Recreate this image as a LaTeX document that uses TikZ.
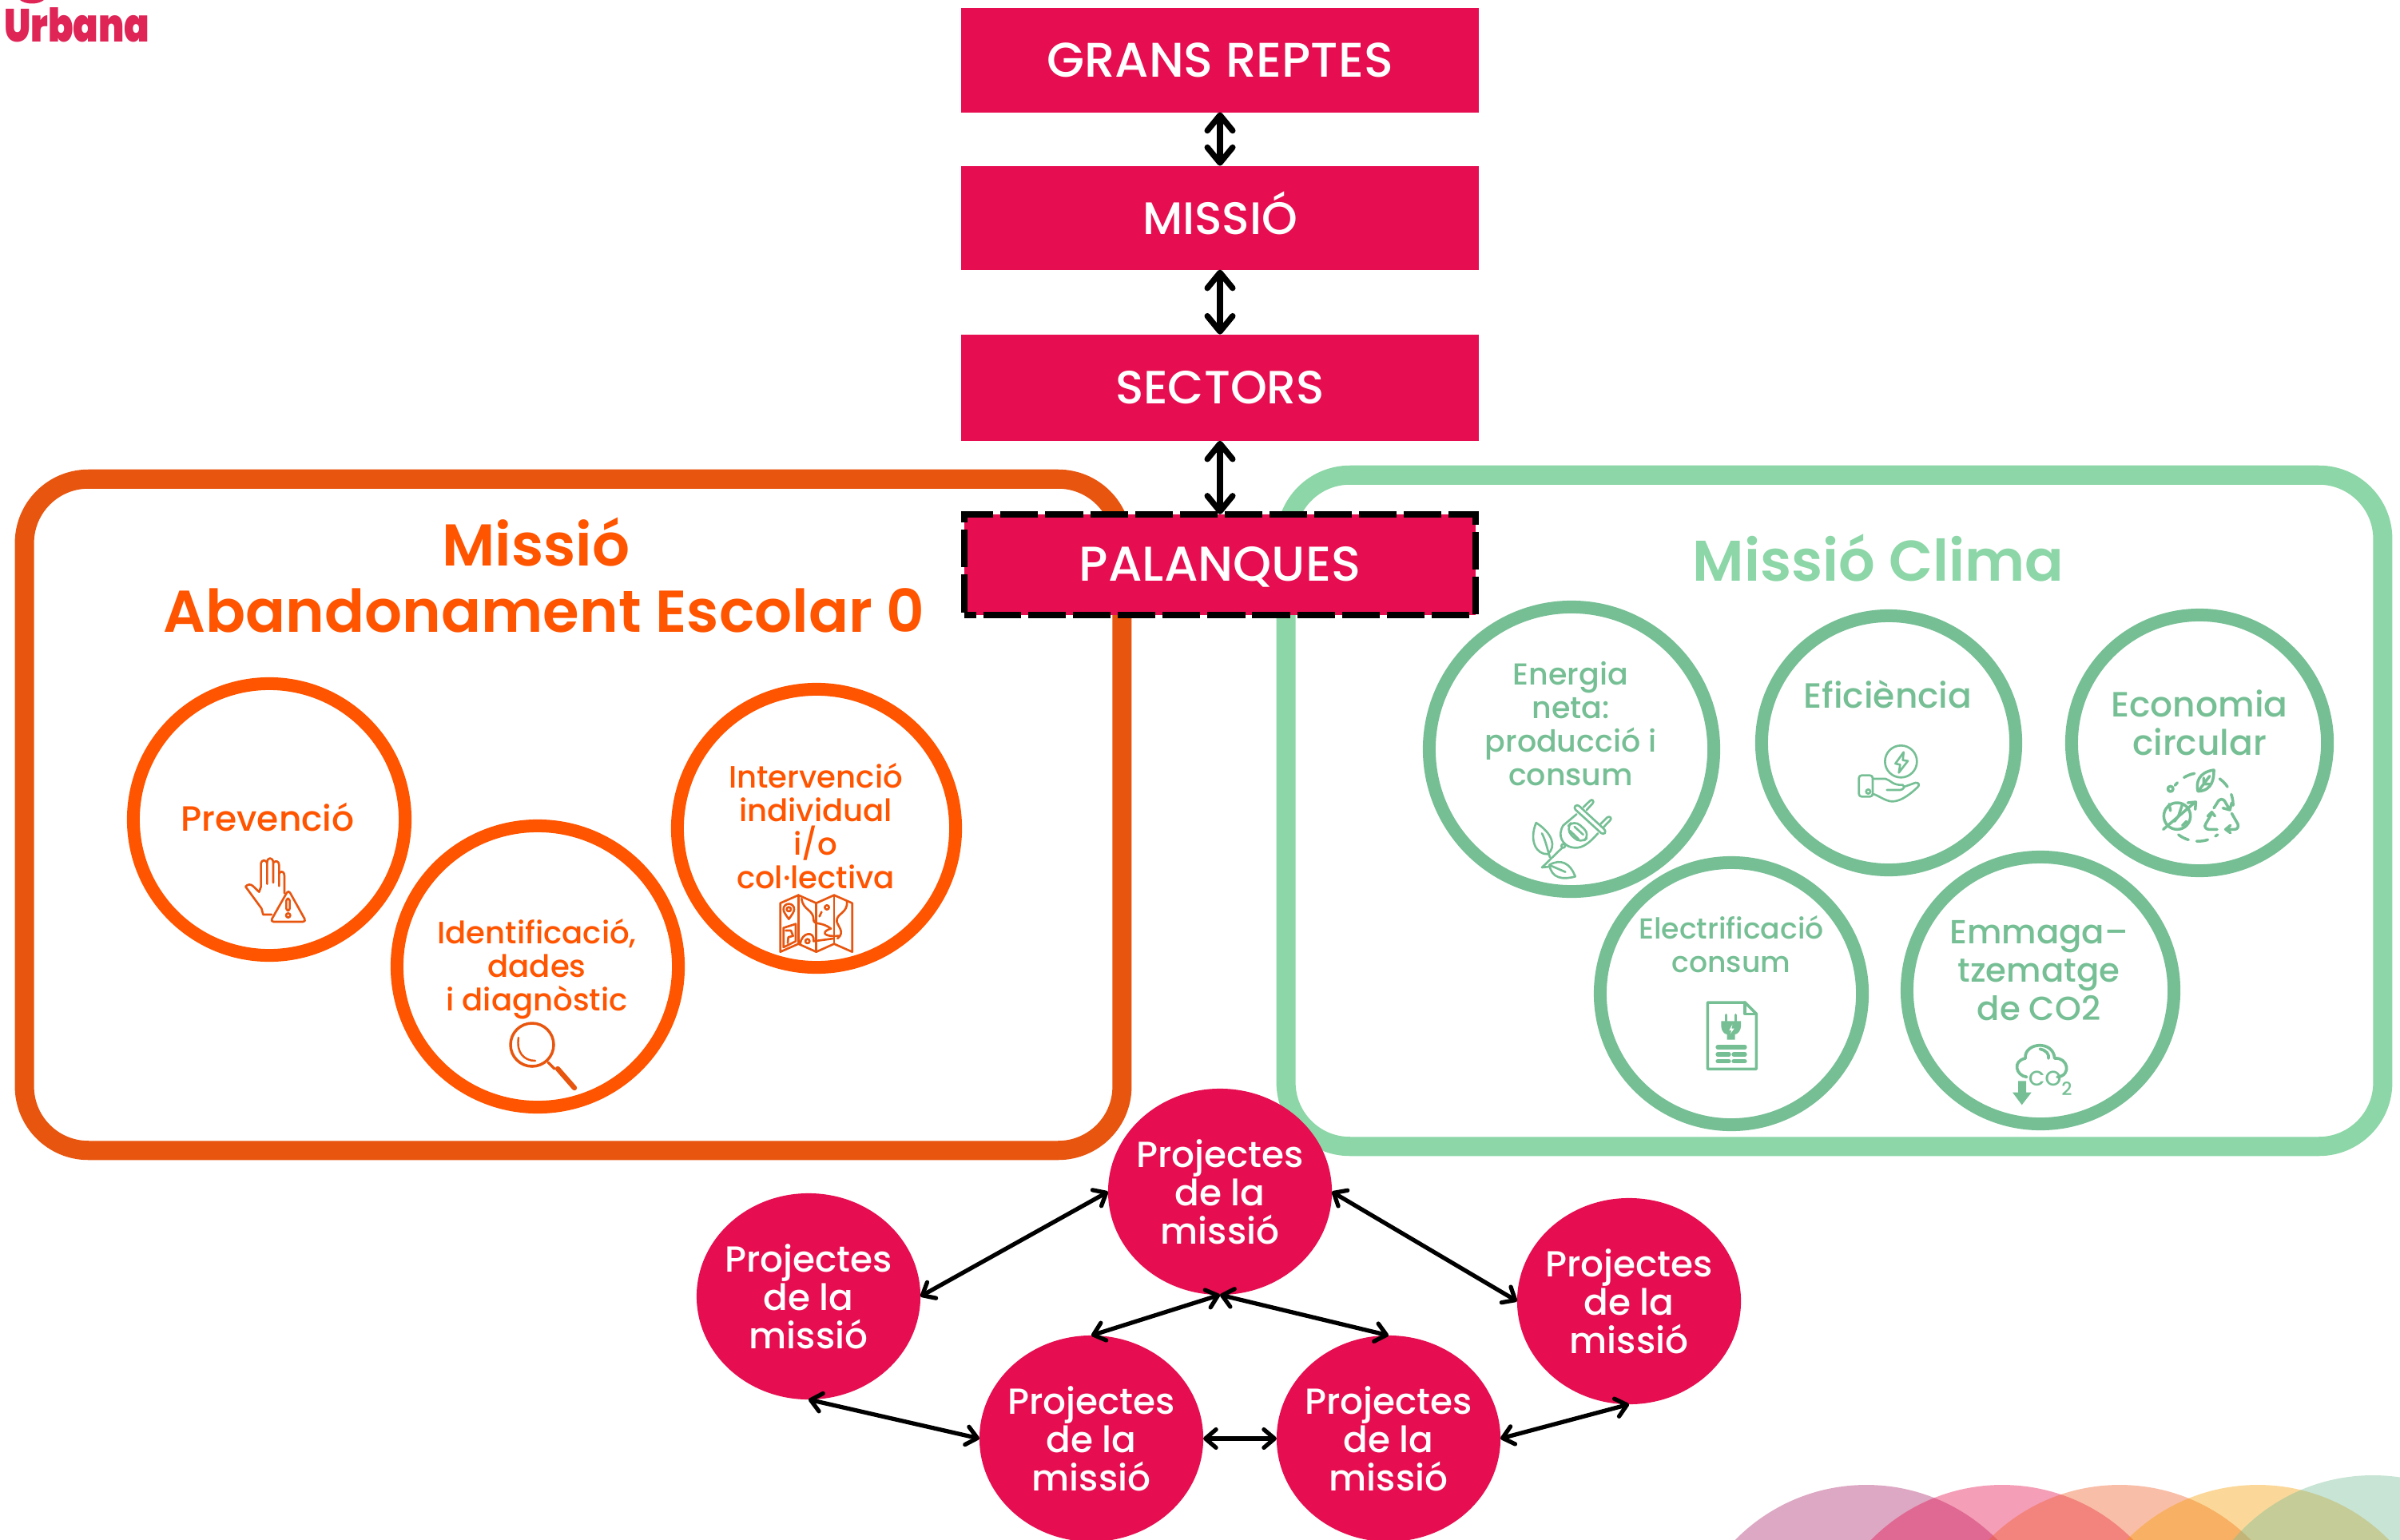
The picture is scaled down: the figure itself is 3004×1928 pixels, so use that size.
\documentclass[tikz,border=0pt]{standalone}
\usepackage{fontspec}
\setmainfont{Poppins}
\newfontfamily\MediumFont{Poppins Medium}
\newfontfamily\TitleFont{Poppins SemiBold}
\newfontfamily\LogoFont{Poppins Black}
\usepackage{xcolor}
\usepackage{tikz}
\usetikzlibrary{arrows.meta}
\usetikzlibrary{positioning}
\usetikzlibrary{shapes.geometric}
\definecolor{Crimson}{HTML}{E60D50}
\definecolor{LogoRed}{HTML}{DF2456}
\definecolor{FrameOrange}{HTML}{E8550F}
\definecolor{Orange}{HTML}{FF5400}
\definecolor{FrameGreen}{HTML}{8CD6A7}
\definecolor{Green}{HTML}{76BF95}
\definecolor{ArchA}{HTML}{AA2569}
\definecolor{ArchB}{HTML}{E30C4B}
\definecolor{ArchC}{HTML}{F05C25}
\definecolor{ArchD}{HTML}{F59D00}
\definecolor{ArchE}{HTML}{75BB96}

\begin{document}
\begin{tikzpicture}
[
	x = 0.01cm, y = -0.01cm,
	Level/.style		= {fill = Crimson, outer sep = 0cm, minimum width = 6.48cm, minimum height = 1.3cm, text = white, text height = 0.41cm, text depth = 0cm, font = \MediumFont\fontsize{#1}{16.8}\selectfont},
	Frame/.style		= {draw = #1, line width = 0.24cm, rounded corners = 0.8cm, outer sep = 0cm},
	Phase/.style		= {shape = circle, draw = #1, line width = 0.16cm, inner sep = 0cm},
	PhaseText/.style	= {text = #1, align = center, inner sep = 0cm, font = \MediumFont\fontsize{11}{12}\selectfont},
	BigText/.style		= {text = #1, align = center, inner sep = 0cm, font = \MediumFont\fontsize{12.5}{13.7}\selectfont},
	Title/.style		= {text = #1, anchor = base, inner sep = 0cm, font = \TitleFont\fontsize{21}{21}\selectfont},
	Project/.style		= {shape = ellipse, fill = Crimson, outer sep = 0cm, inner sep = -1cm, minimum width = 2.8cm, minimum height = 2.58cm, text = white, align = center, font = \MediumFont\fontsize{12.9}{13.7}\selectfont},
	BoxLink/.style		= {{Straight Barb[round, length = 5.5pt, width = 9pt]}-{Straight Barb[round, length = 5.5pt, width = 9pt]}, line width = 2.1pt},
	Link/.style			= {{Straight Barb[round, length = 3.8pt, width = 6.5pt]}-{Straight Barb[round, length = 3.8pt, width = 6.5pt]}, line width = 1.5pt},
	Icon/.style			= {draw = #1, line width = 0.75pt, line join = round, line cap = round},
	Arch/.style			= {fill = #1, fill opacity = 0.4},
]

	\useasboundingbox (0,0) rectangle (3004,1928);
	\clip (0,0) rectangle (3004,1928);

	% logo
	\node (logo) [anchor = base east, inner sep = 0cm, text = LogoRed, font = \LogoFont\fontsize{16.5}{16.5}\selectfont] at (188,53) {\scalebox{0.8}[1]{Urbana}};
	\fill [LogoRed] (25,0) .. controls (32,6) and (48,6) .. (55,0) -- cycle;

	% arches at the bottom
	\fill [Arch = ArchA] (2336,2089) circle [radius = 230];
	\fill [Arch = ArchB] (2506,2089) circle [radius = 230];
	\fill [Arch = ArchC] (2653,2089) circle [radius = 230];
	\fill [Arch = ArchD] (2826,2089) circle [radius = 230];
	\fill [Arch = ArchE] (2970,2077) circle [radius = 230];

	% the two missions
	\node (dropout) [Frame = FrameOrange, minimum width = 13.73cm, minimum height = 8.4cm] at (717.5,1020) {};
	\node (climate) [Frame = FrameGreen, minimum width = 13.72cm, minimum height = 8.4cm] at (2296,1015) {};

	\node (dropoutT) [Title = Orange] at (671,708) {Missió};
	\node (dropoutU) [Title = Orange] at (681,791) {Abandonament Escolar 0};
	\node (climateT) [Title = FrameGreen, font = \TitleFont\fontsize{20.4}{20.4}\selectfont] at (2351,727) {Missió Clima};

	\node (prevent) [Phase = Orange, minimum size = 3.4cm] at (337,1026) {};
	\node (identify) [Phase = Orange, minimum size = 3.52cm] at (673,1210) {};
	\node (act) [Phase = Orange, minimum size = 3.48cm] at (1022,1037) {};
	%
	\node (preventT) [BigText = Orange] at (335,1023) {Prevenció};
	\node (identifyT) [PhaseText = Orange] at (672,1213) {Identificació, \\ dades \\ i diagnòstic};
	\node (actT) [PhaseText = Orange] at (1021,1034) {Intervenció \\ individual \\ i/o \\ col·lectiva};

	\node (energy) [Phase = Green, minimum size = 3.56cm] at (1967,938) {};
	\node (saving) [Phase = Green, minimum size = 3.18cm] at (2364,930) {};
	\node (circular) [Phase = Green, minimum size = 3.2cm] at (2753,930) {};
	\node (electric) [Phase = Green, minimum size = 3.28cm] at (2167,1244) {};
	\node (storage) [Phase = Green, minimum size = 3.34cm] at (2554,1240) {};
	%
	\node (energyT) [PhaseText = Green, font = \MediumFont\fontsize{10.8}{12}\selectfont] at (1966,906) {Energia \\ neta: \\ producció i \\ consum};
	\node (savingT) [BigText = Green] at (2363,869) {Eficiència};
	\node (circularT) [BigText = Green] at (2753,905) {Economia \\ circular};
	\node (electricT) [PhaseText = Green, font = \MediumFont\fontsize{10.3}{12}\selectfont] at (2167,1182) {Electrificació \\ consum};
	\node (storageT) [BigText = Green, font = \MediumFont\fontsize{11.9}{13.7}\selectfont] at (2552,1215) {Emmaga– \\ tzematge \\ de CO2};

	% levels
	\node (challenges) [Level = 17.3] at (1527,75.5) {GRANS REPTES};
	\node (mission) [Level = 16.2, below = 0.67cm of challenges] {MISSIÓ};
	\node (sectors) [Level = 16.6, below = 0.81cm of mission, minimum height = 1.33cm] {SECTORS};
	\node (levers) [Level = 17.4, below = 0.92cm of sectors, minimum width = 6.4cm, minimum height = 1.26cm, draw = black, line width = 0.08cm, dash pattern = on 13.4pt off 2.55pt, dash phase = 9.1pt] {PALANQUES};
	%
	\draw [BoxLink] (challenges) -- (mission);
	\draw [BoxLink] (mission) -- (sectors);
	\draw [BoxLink] (sectors) -- (levers);

	% projects
	\node (projTop) [Project] at (1527,1492) {Projectes \\ de la \\ missió};
	\node (projLeft) [Project] at (1012,1623) {Projectes \\ de la \\ missió};
	\node (projRight) [Project] at (2039,1629) {Projectes \\ de la \\ missió};
	\node (projLow) [Project] at (1366,1801) {Projectes \\ de la \\ missió};
	\node (projHigh) [Project] at (1738,1801) {Projectes \\ de la \\ missió};
	%
	\draw [Link] (projTop.west) -- (projLeft.east);
	\draw [Link] (projTop.east) -- (projRight.west);
	\draw [Link] (projTop.south) -- (projLow.north);
	\draw [Link] (projTop.south) -- (projHigh.north);
	\draw [Link] (projLeft.south) -- (projLow.west);
	\draw [Link] (projLow.east) -- (projHigh.west);
	\draw [Link] (projHigh.east) -- (projRight.south);

	% icons, orange
	\begin{scope}[shift = {(290,1060)}, scale = 1/3, Icon = FrameOrange]
		\draw (150,255) -- (118,255) -- (112,232) -- (52,150) .. controls (60,140) and (72,140) .. (80,148) -- (103,170) -- (110,150) -- (110,62) .. controls (112,48) and (130,48) .. (133,62) -- (133,140);
		\draw (133,60) .. controls (133,38) and (155,38) .. (156,60) -- (156,135);
		\draw (156,60) .. controls (166,50) and (178,55) .. (178,70) -- (178,148);
		\draw (178,100) .. controls (188,88) and (198,95) .. (198,110) -- (198,175);
		\draw [rounded corners = 1.2pt] (213,162) -- (280,282) -- (145,282) -- cycle;
		\draw [rounded corners = 0.8pt] (205,195) rectangle (218,240);
		\draw (212,258) circle [radius = 8];
	\end{scope}
	%
	\begin{scope}[Icon = FrameOrange]
		\draw [line width = 1pt] (666,1308) circle [radius = 27];
		\draw [line width = 0.7pt] (649,1299) .. controls (646,1318) and (656,1328) .. (670,1328);
		\draw [line width = 1pt] (686,1330) -- (694,1338);
		\draw [line width = 1.8pt] (698,1338) -- (719,1362);
	\end{scope}
	%
	\begin{scope}[shift = {(960,1110)}, scale = 1/3, Icon = FrameOrange]
		\draw (50,62) -- (118,32) -- (185,62) -- (252,32) -- (320,62) -- (320,245) -- (252,215) -- (185,245) -- (118,215) -- (50,245) -- cycle;
		\draw (118,32) -- (118,215) (185,62) -- (185,245) (252,32) -- (252,215);
		\draw (82,122) .. controls (70,105) and (62,95) .. (62,85) .. controls (62,58) and (102,58) .. (102,85) .. controls (102,95) and (94,105) .. (82,122) -- cycle;
		\draw (82,85) circle [radius = 8];
		\draw (62,155) -- (108,140) -- (108,205) -- (62,228) -- cycle;
		\draw (70,165) -- (90,165) -- (98,185) -- (80,190) -- (78,212);
		\draw (130,45) .. controls (135,90) and (175,85) .. (175,125) .. controls (175,145) and (205,130) .. (240,158) .. controls (210,165) and (200,190) .. (270,185);
		\draw (125,215) .. controls (130,170) and (180,165) .. (175,205) -- (250,195);
		\draw (300,55) .. controls (305,100) and (260,100) .. (262,130) .. controls (265,150) and (295,170) .. (265,195);
		\draw (225,78) circle [radius = 8] (152,205) circle [radius = 8];
		\draw (205,95) -- (197,112);
	\end{scope}

	% icons, green
	\begin{scope}[shift = {(1900,990)}, scale = 1/3, Icon = Green]
		\draw [rounded corners = 1pt] (222,50) -- (332,152) -- (320,166) -- (208,64) -- cycle;
		\draw (245,62) -- (270,38) .. controls (278,28) and (288,40) .. (280,48) -- (258,72);
		\draw (310,125) -- (335,100) .. controls (345,92) and (355,105) .. (345,112) -- (322,136);
		\draw (220,88) -- (170,130) .. controls (145,170) and (170,205) .. (200,212) .. controls (235,220) and (260,205) .. (300,160);
		\draw [rounded corners = 3pt] (178,145) -- (210,108) -- (272,165) -- (235,200) -- cycle;
		\draw (195,150) -- (228,182) (212,135) -- (245,165);
		\draw (170,207) circle [radius = 7];
		\draw (165,215) -- (90,288) -- (118,285);
		\draw (68,120) .. controls (40,190) and (70,240) .. (112,238) .. controls (145,210) and (130,160) .. (68,120) -- cycle;
		\draw (90,160) .. controls (105,190) and (110,220) .. (120,250);
		\draw (118,278) .. controls (160,255) and (195,270) .. (215,322) .. controls (170,335) and (125,330) .. (118,278) -- cycle;
		\draw (120,280) -- (178,305);
	\end{scope}
	%
	\begin{scope}[shift = {(2310,920)}, scale = 1/3, Icon = Green]
		\draw (208,100) circle [radius = 60];
		\draw (218,65) -- (187,108) -- (205,112) -- (200,142) -- (234,98) -- (215,95) -- cycle;
		\draw [rounded corners = 1pt] (50,152) rectangle (102,232);
		\draw (85,213) circle [radius = 8];
		\draw (102,165) -- (150,165) .. controls (170,170) and (175,190) .. (215,188) .. controls (222,195) and (220,205) .. (205,207) -- (155,207);
		\draw (220,195) -- (262,180) .. controls (278,178) and (278,190) .. (270,197) .. controls (230,235) and (200,250) .. (175,250) .. controls (150,250) and (120,225) .. (102,222);
	\end{scope}
	%
	\begin{scope}[shift = {(2695,950)}, scale = 1/3, Icon = Green, line width = 1pt]
		\draw [dash pattern = on 4pt off 3pt] (155,55) arc [start angle = -101, end angle = -142, radius = 122];
		\draw [dash pattern = on 4pt off 3pt] (250,75) arc [start angle = -54, end angle = 7, radius = 122];
		\draw [dash pattern = on 4pt off 3pt] (95,285) arc [start angle = 127, end angle = 53, radius = 122];
		\draw (65,113) circle [radius = 10];
		\draw (228,42) .. controls (170,50) and (160,90) .. (168,122) .. controls (225,120) and (228,70) .. (228,42) -- cycle;
		\draw (172,118) -- (212,65) (190,95) -- (190,72) (190,95) -- (215,95);
		\draw (90,215) circle [radius = 50];
		\draw (38,265) -- (155,165) (130,165) -- (160,162) -- (158,190);
		\draw (60,170) -- (65,195) (110,170) -- (95,215) -- (80,235) (125,235) -- (110,250);
		\draw (228,185) -- (245,158) .. controls (252,150) and (262,150) .. (268,158) -- (288,192) (262,185) -- (288,192) -- (295,165);
		\draw (295,205) -- (318,245) .. controls (322,258) and (315,265) .. (305,265) -- (272,265) (290,250) -- (272,265) -- (290,278);
		\draw (240,265) -- (210,265) .. controls (198,265) and (190,255) .. (197,245) -- (220,205) (205,215) -- (220,200) -- (232,215);
	\end{scope}
	%
	\begin{scope}[shift = {(2110,1240)}, scale = 1/3, Icon = Green, line width = 1pt]
		\draw (82,45) -- (222,45) -- (265,88) -- (265,295) -- (82,295) -- cycle;
		\draw (222,45) -- (222,88) -- (265,88);
		\draw [line width = 1.5pt] (120,213) -- (222,213) (120,240) -- (162,240) (180,240) -- (222,240) (120,266) -- (162,266) (180,266) -- (222,266);
		\draw (152,92) -- (152,115) (187,92) -- (187,115);
		\fill [Green] (133,115) -- (207,115) -- (207,135) .. controls (207,150) and (195,165) .. (185,165) -- (185,185) -- (155,185) -- (155,165) .. controls (145,165) and (133,150) .. (133,135) -- cycle;
		\fill [white] (175,128) -- (163,150) -- (172,150) -- (168,162) -- (182,143) -- (172,143) -- cycle;
	\end{scope}
	%
	\begin{scope}[shift = {(2500,1295)}, scale = 1/3, Icon = Green, line width = 1.05pt]
		\draw (110,160) .. controls (70,155) and (55,100) .. (105,90) .. controls (100,30) and (210,20) .. (215,90) .. controls (265,85) and (280,155) .. (225,160);
		\draw (160,55) .. controls (185,60) and (195,75) .. (192,90);
		\fill [Green] (78,175) -- (108,175) -- (108,218) -- (128,218) -- (92,265) -- (57,218) -- (78,218) -- cycle;
		\node (co) [anchor = base west, inner sep = 0cm, text = Green, draw = none, font = \MediumFont\fontsize{7.5}{7.5}\selectfont] at (112,192) {CO\raisebox{-3.5pt}{\fontsize{6.5}{6.5}\selectfont 2}};
	\end{scope}

\end{tikzpicture}
\end{document}
